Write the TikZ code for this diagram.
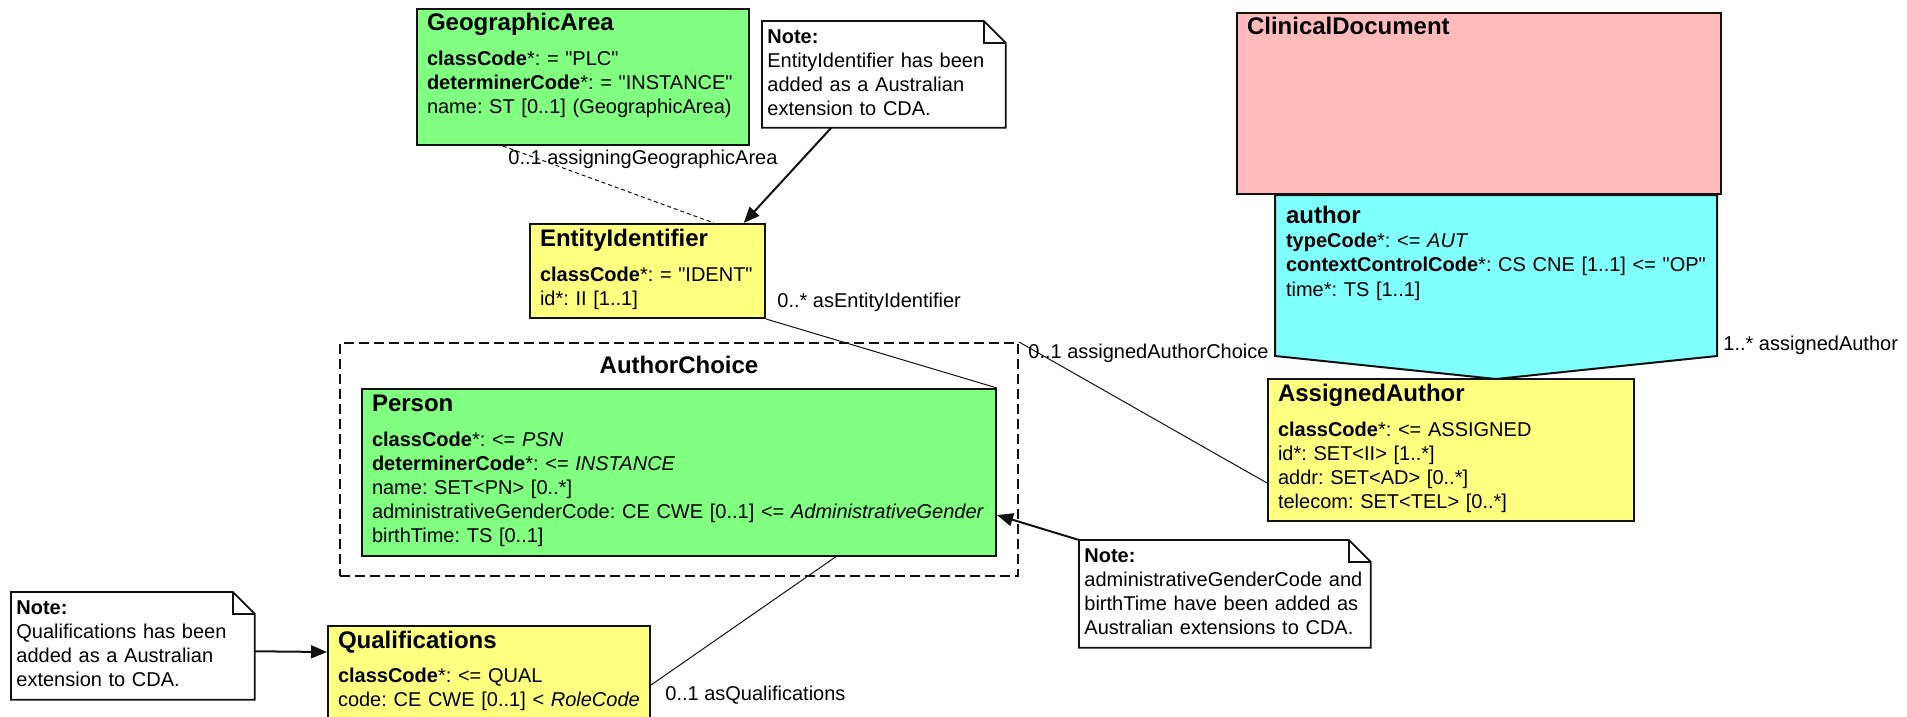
\documentclass[tikz,border=0pt]{standalone}
\usepackage{fontspec}
\setmainfont{Liberation Sans}[Ligatures=TeXOff]
\usetikzlibrary{arrows.meta, positioning, calc}
\definecolor{entitygreen}{HTML}{80FF80}
\definecolor{roleyellow}{HTML}{FFFF80}
\definecolor{actpink}{HTML}{FFBBBB}
\definecolor{partcyan}{HTML}{80FFFF}
\definecolor{linegrey}{HTML}{111111}
\newcommand{\clstitle}[1]{{\fontsize{12}{14}\selectfont\bfseries #1}}
\frenchspacing

\begin{document}
\begin{tikzpicture}[
    x=0.5pt, y=-0.5pt,
    >={Triangle[length=8pt, width=6.5pt]},
    every node/.style={font=\fontsize{10}{12}\selectfont},
    classbox/.style={
      rectangle, draw=linegrey, line width=1pt, anchor=north west,
      align=left, inner xsep=5pt, inner ysep=2pt, text height=9pt,
      execute at begin node={\hyphenpenalty=10000\relax}
    },
    greenbox/.style={classbox, fill=entitygreen},
    yellowbox/.style={classbox, fill=roleyellow},
    pinkbox/.style={classbox, fill=actpink},
    choicebox/.style={
      rectangle, draw=linegrey, line width=1pt,
      dash pattern=on 5pt off 2.5pt, anchor=north west, inner sep=0pt
    },
    choicetitle/.style={font=\fontsize{12}{14}\selectfont\bfseries, inner sep=0pt},
    notebox/.style={
      rectangle, fill=white, anchor=north west, align=left,
      inner xsep=2.5pt, inner ysep=2pt, text height=9pt, text depth=40.5pt
    },
    noteline/.style={draw=linegrey, line width=0.9pt},
    assoc/.style={draw=linegrey, line width=0.5pt},
    assocdash/.style={assoc, dash pattern=on 2pt off 1.5pt},
    notearrow/.style={->, draw=linegrey, line width=1pt},
    rolename/.style={inner sep=0pt, anchor=base west}
  ]

  \useasboundingbox (0,0) rectangle (1907,717);
  \clip (0,0) rectangle (1907,717);

  % ===== AuthorChoice with Person =====
  \node[choicebox, minimum width=339pt, minimum height=116.5pt] (choice) at (339,342) {};
  \node[choicetitle, anchor=base] (choicetitle) at ($(choice.north)+(0,31)$) {AuthorChoice};

  \node[greenbox, text width=307pt, text depth=70.5pt] (person) at (361,388)
    {\clstitle{Person}\\[5.5pt]
     \textbf{classCode}*: <= \textit{PSN}\\
     \textbf{determinerCode}*: <= \textit{INSTANCE}\\
     name: SET<PN> [0..*]\\
     administrativeGenderCode: CE CWE [0..1] <= \textit{AdministrativeGender}\\
     birthTime: TS [0..1]};

  % ===== GeographicArea and EntityIdentifier =====
  \node[greenbox, text width=156pt, text depth=55pt] (geo) at (416,8)
    {\clstitle{GeographicArea}\\[5.5pt]
     \textbf{classCode}*: = "PLC"\\
     \textbf{determinerCode}*: = "INSTANCE"\\
     name: ST [0..1] (GeographicArea)};

  \node[yellowbox, text width=107.5pt, text depth=34pt] (eid) at (529,223)
    {\clstitle{EntityIdentifier}\\[5.5pt]
     \textbf{classCode}*: = "IDENT"\\
     id*: II [1..1]};

  \node[notebox, text width=116.5pt, text depth=40pt] (noteeid) at (762,21)
    {\textbf{Note:}\\
     EntityIdentifier has been\\
     added as a Australian\\
     extension to CDA.};

  % ===== Qualifications =====
  \node[yellowbox, text width=151pt, text depth=60pt] (qual) at (327,625)
    {\clstitle{Qualifications}\\[5pt]
     \textbf{classCode}*: <= QUAL\\
     code: CE CWE [0..1] < \textit{RoleCode}};

  \node[notebox, text width=116.5pt] (notequal) at (11,592)
    {\textbf{Note:}\\
     Qualifications has been\\
     added as a Australian\\
     extension to CDA.};

  % ===== ClinicalDocument, author, AssignedAuthor =====
  \node[pinkbox, text width=232pt, text depth=77.5pt] (clin) at (1236,12)
    {\clstitle{ClinicalDocument}};

  \coordinate (authortl) at ($(clin.south west)+(39,0)$);
  \coordinate (authortr) at ($(clin.south east)+(-5,0)$);
  \coordinate (authorbl) at ($(authortl)+(0,161)$);
  \coordinate (authorbr) at ($(authortr)+(0,161)$);
  \coordinate (authortip) at ($(authorbl)!0.5!(authorbr)+(0,23)$);
  \draw[draw=linegrey, line width=1pt, fill=partcyan]
    (authortl) -- (authorbl) -- (authortip) -- (authorbr) -- (authortr) -- cycle;

  \node[classbox, draw=none, text width=215pt, inner ysep=4.5pt] (author) at (authortl)
    {\clstitle{author}\\[0.5pt]
     \textbf{typeCode}*: <= \textit{AUT}\\
     \textbf{contextControlCode}*: CS CNE [1..1] <= "OP"\\
     time*: TS [1..1]};

  \node[yellowbox, text width=173pt, text depth=58pt] (assigned) at (1267,378)
    {\clstitle{AssignedAuthor}\\[5.5pt]
     \textbf{classCode}*: <= ASSIGNED\\
     id*: SET<II> [1..*]\\
     addr: SET<AD> [0..*]\\
     telecom: SET<TEL> [0..*]};

  \node[notebox, text width=140.5pt] (notegender) at (1079,540)
    {\textbf{Note:}\\
     administrativeGenderCode and\\
     birthTime have been added as\\
     Australian extensions to CDA.};

  % ===== note outlines with folded corner =====
  \foreach \n in {noteeid, notequal, notegender} {
    \draw[noteline] (\n.north west) -- ($(\n.north east)+(-22,0)$)
      -- ($(\n.north east)+(0,22)$) -- (\n.south east) -- (\n.south west) -- cycle;
    \draw[noteline] ($(\n.north east)+(-22,0)$) |- ($(\n.north east)+(0,22)$);
  }

  % ===== connectors =====
  \draw[assocdash] ($(geo.south west)!0.26!(geo.south east)$)
    -- ($(eid.north west)!0.78!(eid.north east)$);
  \draw[notearrow] ($(noteeid.south west)!0.284!(noteeid.south east)$)
    -- ($(eid.north west)!0.906!(eid.north east)$);
  \draw[assoc] (eid.south east) -- (person.north east);
  \draw[assoc] ($(person.south west)!0.746!(person.south east)$)
    -- ($(qual.north east)+(0,60)$);
  \draw[notearrow] ($(notequal.north east)!0.55!(notequal.south east)$)
    -- ($(qual.north west)+(0,27)$);
  \draw[notearrow] (notegender.north west) -- ($(person.north east)+(0,127)$);
  \draw[assoc] (choice.north east) -- ($(assigned.north west)+(0,105)$);

  % ===== role names =====
  \node[rolename] (rgeo) at ($(geo.south west)+(92,18)$) {0..1 assigningGeographicArea};
  \node[rolename] (reid) at ($(eid.south east)+(11,-12)$) {0..* asEntityIdentifier};
  \node[rolename] (rchoice) at ($(choice.north east)+(9,16)$) {0..1 assignedAuthorChoice};
  \node[rolename] (rauthor) at ($(authorbr)+(6,-6)$) {1..* assignedAuthor};
  \node[rolename] (rqual) at ($(qual.north east)+(14,75)$) {0..1 asQualifications};

\end{tikzpicture}
\end{document}
